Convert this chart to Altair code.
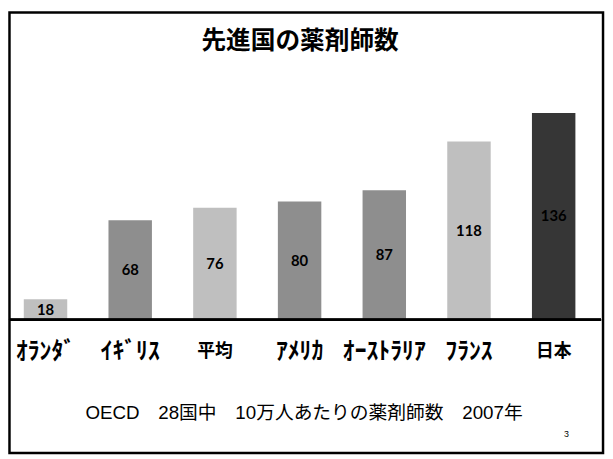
import altair as alt
import pandas as pd

# ---- data ----
countries = ["ｵﾗﾝﾀﾞ", "ｲｷﾞﾘｽ", "平均", "ｱﾒﾘｶ", "ｵｰｽﾄﾗﾘｱ", "ﾌﾗﾝｽ", "日本"]
values = [18, 68, 76, 80, 87, 118, 136]
bar_colors = ["#BFBFBF", "#8E8E8E", "#BFBFBF", "#8E8E8E", "#8E8E8E", "#BFBFBF", "#363636"]
title_text = "先進国の薬剤師数"
subtitle_text = "OECD\u300028国中\u300010万人あたりの薬剤師数\u30002007年"
page_number = "3"

Y_MIN = 5
Y_MAX = 200.6

df = pd.DataFrame({"country": countries, "value": values})

x_enc = alt.X(
    "country:N",
    sort=None,
    scale=alt.Scale(range=[16, 575], paddingInner=0.487, paddingOuter=0),
    axis=alt.Axis(
        title=None,
        labelAngle=0,
        labelFont="Noto Sans CJK JP",
        labelFontWeight="bold",
        labelFontSize=alt.expr("datum.label == '平均' || datum.label == '日本' ? 18 : 24"),
        labelColor="#000000",
        labelBaseline="middle",
        labelPadding=32,
        labelLimit=300,
        ticks=False,
        tickSize=0,
        domain=False,
        grid=False,
    ),
)
y_scale = alt.Scale(domain=[Y_MIN, Y_MAX], zero=False, nice=False)

base = alt.Chart(df)

bars = base.mark_bar().encode(
    x=x_enc,
    y=alt.Y("value:Q", scale=y_scale, axis=None),
    y2=alt.datum(Y_MIN),
    color=alt.Color("country:N", scale=alt.Scale(domain=countries, range=bar_colors), legend=None),
)

labels = base.transform_calculate(
    mid=f"(datum.value + {Y_MIN}) / 2"
).mark_text(
    font="Lato", fontWeight="bold", fontSize=15, color="#000000", baseline="middle"
).encode(
    x=alt.X("country:N", sort=None),
    y=alt.Y("mid:Q", scale=y_scale, axis=None),
    text="value:Q",
)

axis_line = base.mark_rule(color="#000000", strokeWidth=2).encode(
    x=alt.value(1), x2=alt.value(601), y=alt.datum(Y_MIN)
)

title = alt.Chart(pd.DataFrame({"t": [title_text]})).mark_text(
    font="Noto Sans CJK JP", fontWeight="bold", fontSize=25, color="#000000",
    align="center", baseline="middle",
).encode(x=alt.value(296), y=alt.value(31), text="t:N")

subtitle = alt.Chart(pd.DataFrame({"t": [subtitle_text]})).mark_text(
    font="Liberation Sans, Noto Sans CJK JP", fontSize=19, color="#000000",
    align="center", baseline="middle",
).encode(x=alt.value(300), y=alt.value(407), text="t:N")

pnum = alt.Chart(pd.DataFrame({"t": [page_number]})).mark_text(
    font="Liberation Sans", fontSize=9, color="#000000",
    align="center", baseline="middle",
).encode(x=alt.value(566), y=alt.value(429), text="t:N")

border = alt.Chart(pd.DataFrame({"t": [0]})).mark_rect(
    fill=None, stroke="#000000", strokeWidth=2.5
).encode(x=alt.value(1.5), x2=alt.value(603), y=alt.value(1.5), y2=alt.value(448))

chart = alt.layer(bars, labels, axis_line, title, subtitle, pnum, border).properties(
    width=605,
    height=313,
    padding={"left": 0, "top": 0, "right": 0, "bottom": 138},
    autosize=alt.AutoSizeParams(type="none"),
    background="#FFFFFF",
).configure_view(strokeWidth=0)

chart.save("out.html", embed_options={"renderer": "svg", "actions": False})
